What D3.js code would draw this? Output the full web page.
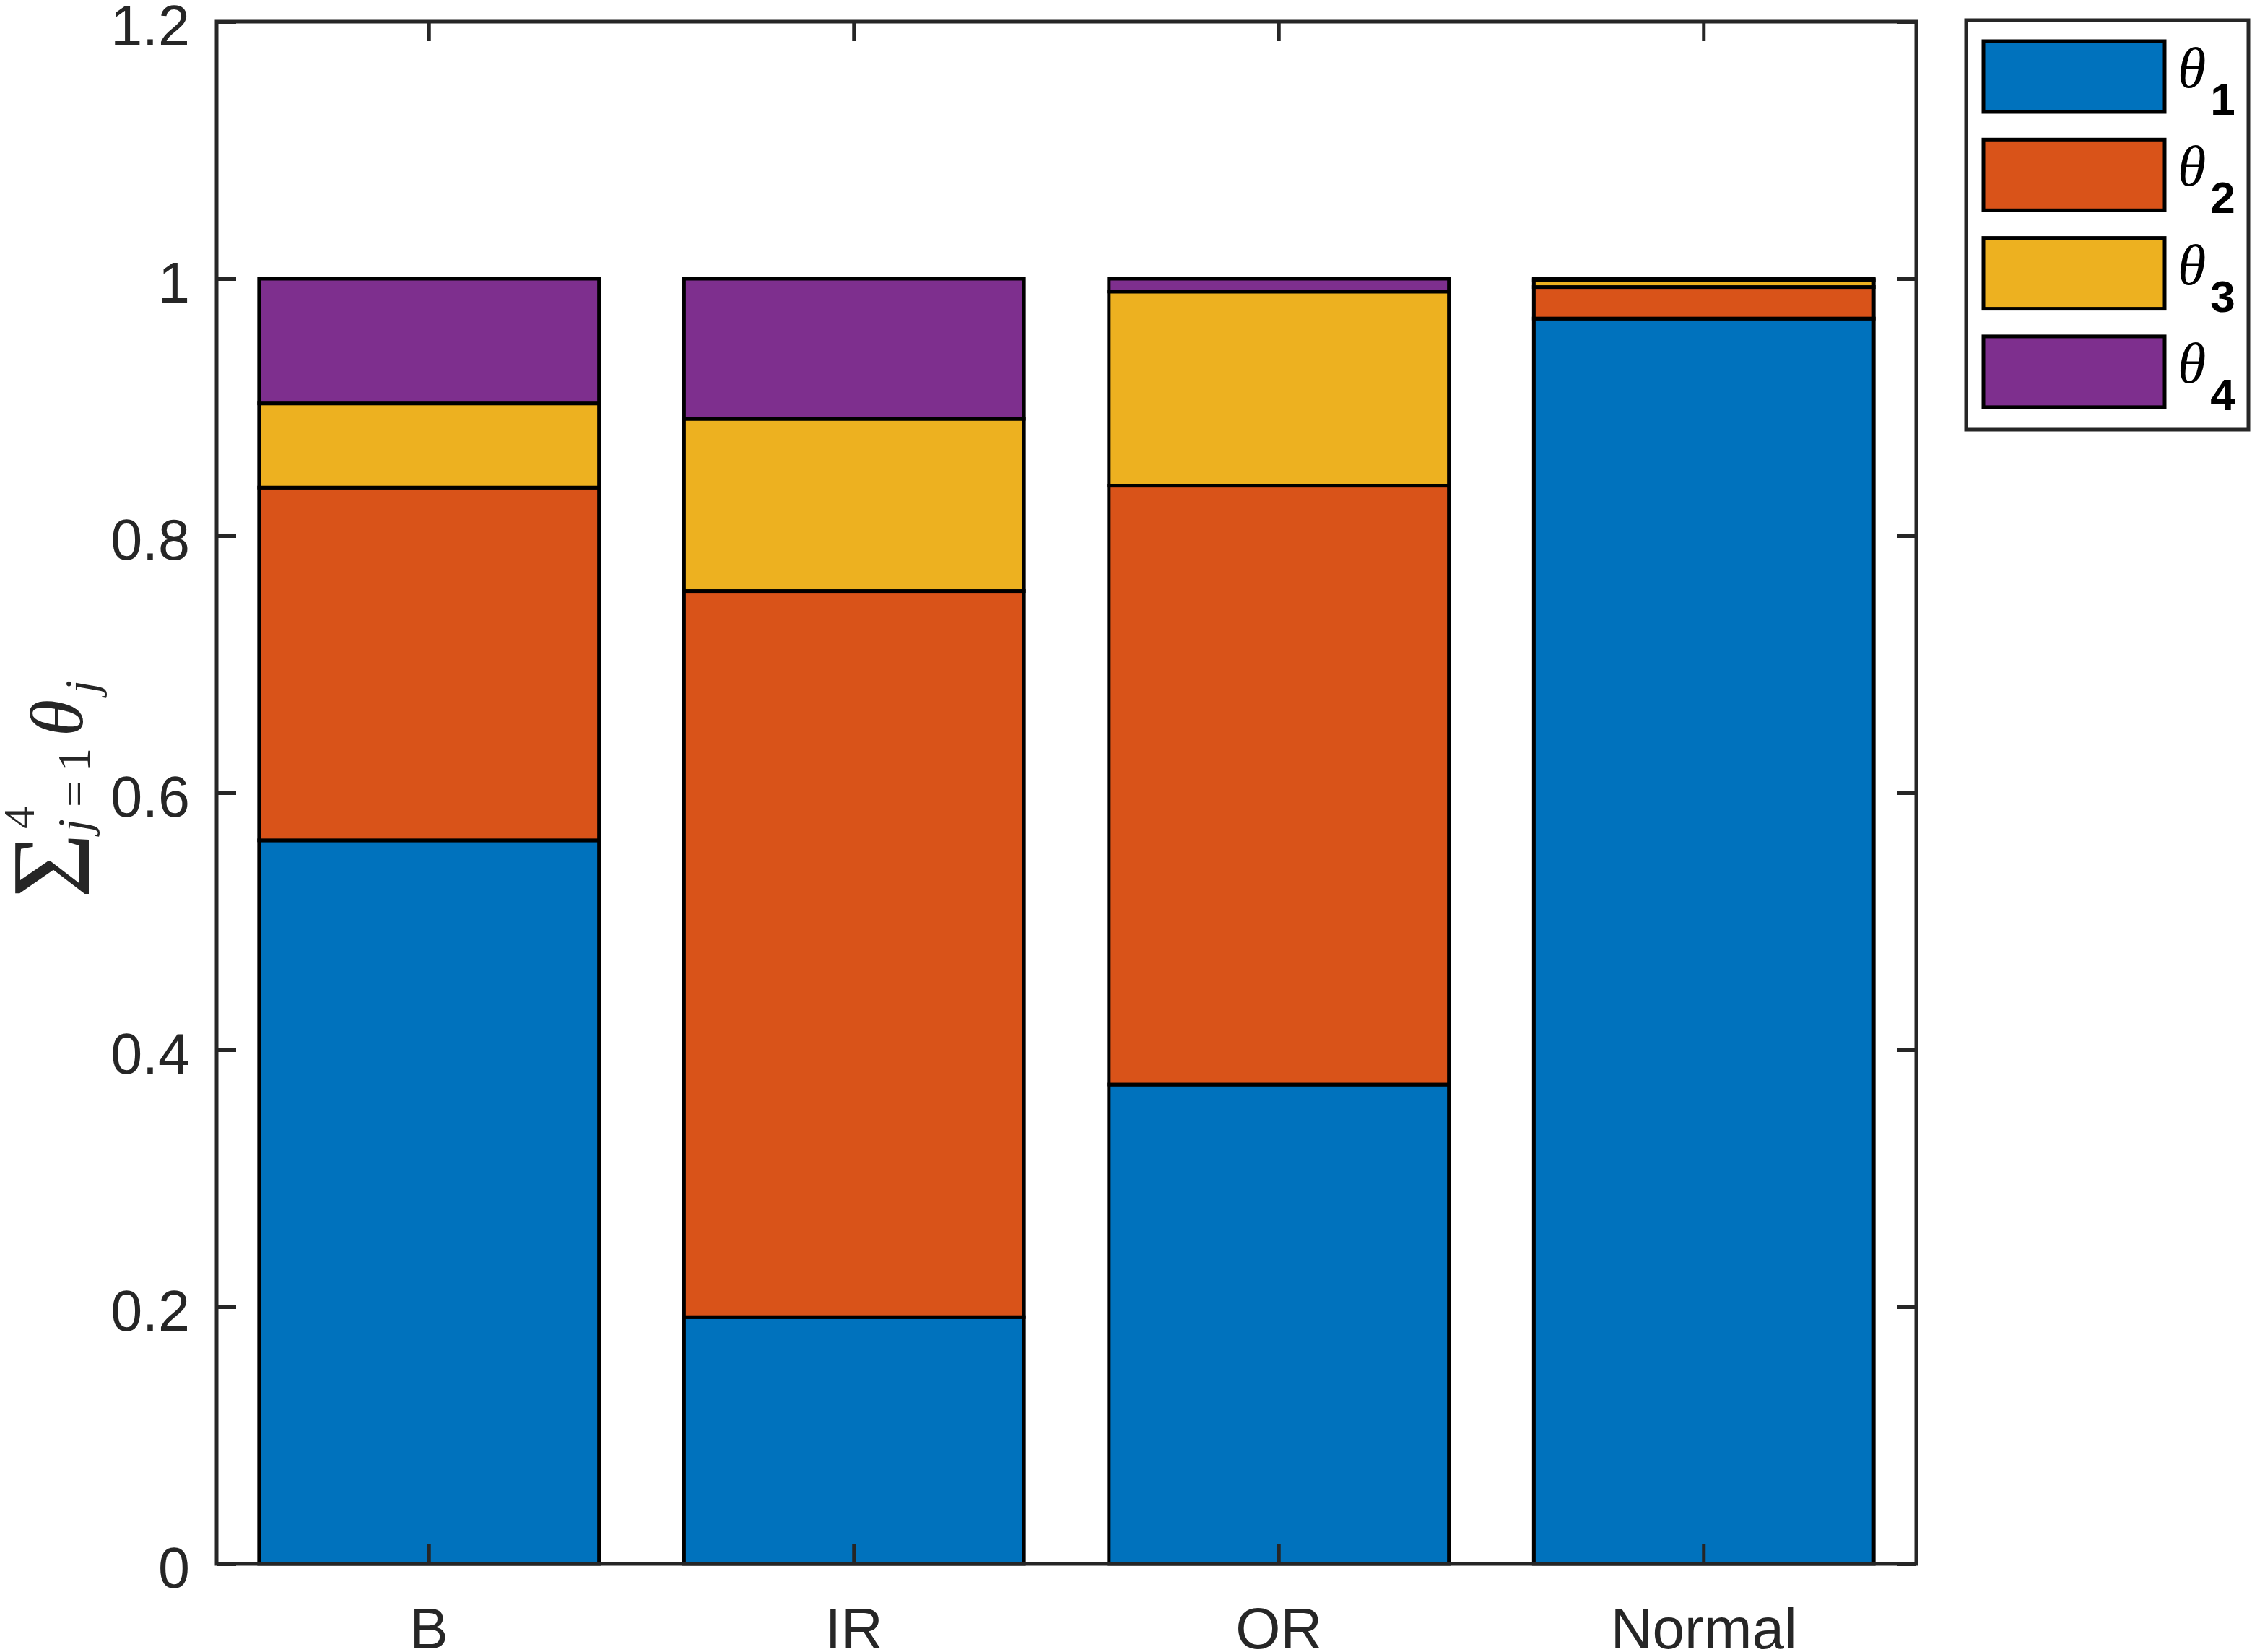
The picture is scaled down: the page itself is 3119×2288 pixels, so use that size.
<!DOCTYPE html>
<html><head><meta charset="utf-8">
<script src="https://cdn.jsdelivr.net/npm/d3@7/dist/d3.min.js"></script>
<style>body{margin:0;background:#fff}svg{display:block}</style>
</head><body>
<script>
const categories = ["B", "IR", "OR", "Normal"];
const theta1 = [0.563, 0.192, 0.373, 0.969];
const theta2 = [0.2745, 0.565, 0.466, 0.0245];
const theta3 = [0.0655, 0.134, 0.151, 0.0055];
const theta4 = [0.097, 0.109, 0.010, 0.001];
const seriesNames = ["1", "2", "3", "4"];
const seriesColors = ["#0072BD", "#D95319", "#EDB120", "#7E2F8E"];
const yTicks = [0, 0.2, 0.4, 0.6, 0.8, 1, 1.2];

const W = 3119, H = 2288;
const L = 300, R = 2654, T = 30, B = 2166;
const axisColor = "#262626";

const svg = d3.select("body").append("svg").attr("width", W).attr("height", H);

const x = d3.scaleBand().domain(categories).range([L, R]).paddingInner(0.2).paddingOuter(0.1);
const y = d3.scaleLinear().domain([0, 1.2]).range([B, T]);

const rows = categories.map((c, i) => ({cat: c, t1: theta1[i], t2: theta2[i], t3: theta3[i], t4: theta4[i]}));
const stack = d3.stack().keys(["t1", "t2", "t3", "t4"])(rows);

const g = svg.append("g");
stack.forEach((layer, si) => {
  g.selectAll(null).data(layer).enter().append("rect")
    .attr("x", d => x(d.data.cat))
    .attr("width", x.bandwidth())
    .attr("y", d => y(d[1]))
    .attr("height", d => y(d[0]) - y(d[1]))
    .attr("fill", seriesColors[si])
    .attr("stroke", "#000")
    .attr("stroke-width", 5);
});

// axes
const font = "'Liberation Sans', Arial, Helvetica, sans-serif";
const yAxisL = d3.axisLeft(y).tickValues(yTicks).tickSize(-27).tickPadding(37).tickFormat(d3.format("~g"));
const yAxisR = d3.axisRight(y).tickValues(yTicks).tickSize(-27).tickFormat("");
const xAxisB = d3.axisBottom(x).tickSize(-27).tickPadding(60);
const xAxisT = d3.axisTop(x).tickSize(-27).tickFormat("");

function style(sel, fs) {
  sel.selectAll(".tick line").attr("stroke", axisColor).attr("stroke-width", 5);
  sel.selectAll(".tick text").attr("fill", axisColor).style("font-family", font).style("font-size", fs + "px");
}
svg.append("g").attr("transform", `translate(${L},0)`).call(yAxisL).call(style, 79)
  .selectAll(".tick text").attr("dy", "0.41em");
svg.append("g").attr("transform", `translate(${R},0)`).call(yAxisR).call(style, 79);
svg.append("g").attr("transform", `translate(0,${B})`).call(xAxisB).call(style, 80);
svg.append("g").attr("transform", `translate(0,${T})`).call(xAxisT).call(style, 80);
svg.selectAll(".domain").remove();
svg.append("rect").attr("x", L).attr("y", T).attr("width", R - L).attr("height", B - T)
  .attr("fill", "none").attr("stroke", axisColor).attr("stroke-width", 5);

// y label (LaTeX-like):  sum_{j=1}^{4} theta_j
const serif = "'Liberation Serif', 'Times New Roman', serif";
const yl = svg.append("g").attr("transform", "translate(0,1246) rotate(-90)")
  .attr("fill", axisColor).style("font-family", serif);
function piece(txt, px, py, size, italic) {
  yl.append("text").attr("x", px).attr("y", py).text(txt)
    .style("font-size", size + "px").style("font-style", italic ? "italic" : "normal");
}
piece("\u03A3", 2, 123, 155, false);
piece("4", 98, 47, 62, false);
piece("j", 94, 124, 64, true);
piece("=", 128, 124, 64, false);
piece("1", 178, 124, 64, false);
piece("\u03B8", 226, 114, 104, true);
piece("j", 286, 134, 64, true);

// legend
const legX = 2723, legY = 28, legW = 391, legH = 567;
svg.append("rect").attr("x", legX).attr("y", legY).attr("width", legW).attr("height", legH)
  .attr("fill", "#fff").attr("stroke", axisColor).attr("stroke-width", 5);
const patchX = 2747, patchW = 251, patchH = 98, patchY0 = 57, pitch = 136.3;
seriesNames.forEach((n, i) => {
  const py = patchY0 + i * pitch;
  svg.append("rect").attr("x", patchX).attr("y", py).attr("width", patchW).attr("height", patchH)
    .attr("fill", seriesColors[i]).attr("stroke", "#000").attr("stroke-width", 5);
  const t = svg.append("text").attr("x", 3016).attr("y", py + 64).attr("fill", "#000");
  t.append("tspan").text("\u03B8").style("font-family", serif).style("font-style", "italic").style("font-size", "80px");
  t.append("tspan").attr("dx", 6).attr("dy", 38).text(n).style("font-family", font).style("font-weight", "bold").style("font-size", "62px");
});
</script>
</body></html>
